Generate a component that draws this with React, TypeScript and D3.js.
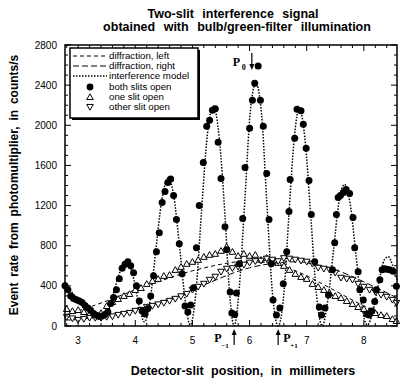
import React from 'react';
import * as d3 from 'd3';

// detector-slit position (mm) and count rate (counts/s)
const bothPos = [2.77, 2.82, 2.87, 2.92, 2.97, 3.02, 3.07, 3.12, 3.17, 3.22, 3.27, 3.32, 3.37, 3.42, 3.47, 3.52, 3.57, 3.62, 3.67, 3.72, 3.77, 3.82, 3.87, 3.92, 3.97, 4.02, 4.07, 4.12, 4.17, 4.22, 4.27, 4.32, 4.37, 4.42, 4.47, 4.52, 4.57, 4.62, 4.67, 4.72, 4.77, 4.82, 4.87, 4.92, 4.97, 5.02, 5.07, 5.12, 5.19, 5.25, 5.30, 5.35, 5.40, 5.45, 5.50, 5.57, 5.60, 5.66, 5.69, 5.74, 5.77, 5.82, 5.88, 5.92, 6.00, 6.05, 6.09, 6.15, 6.19, 6.24, 6.30, 6.34, 6.38, 6.41, 6.47, 6.53, 6.59, 6.65, 6.69, 6.71, 6.79, 6.83, 6.90, 6.94, 6.99, 7.04, 7.08, 7.14, 7.22, 7.26, 7.32, 7.38, 7.45, 7.49, 7.52, 7.55, 7.59, 7.64, 7.69, 7.75, 7.81, 7.84, 7.90, 7.93, 7.99, 8.05, 8.09, 8.14, 8.19, 8.22, 8.28, 8.32, 8.36, 8.40, 8.45, 8.51, 8.57];
const bothRate = [400, 360, 300, 275, 262, 250, 235, 205, 180, 155, 125, 108, 95, 100, 115, 140, 225, 285, 360, 470, 575, 615, 640, 600, 530, 400, 250, 150, 120, 175, 300, 500, 740, 930, 1230, 1340, 1430, 1465, 1300, 1060, 820, 520, 200, 140, 210, 380, 780, 1200, 1630, 1990, 2050, 2150, 2165, 1830, 1470, 990, 760, 340, 130, 115, 330, 620, 1070, 1580, 1970, 2250, 2420, 2590, 2250, 1990, 1520, 1060, 620, 260, 110, 180, 420, 740, 1140, 1460, 1870, 2160, 2145, 2010, 1770, 1450, 1110, 640, 190, 110, 180, 310, 560, 830, 1110, 1280, 1300, 1330, 1360, 1320, 1080, 780, 540, 360, 260, 120, 110, 150, 245, 360, 460, 560, 570, 565, 560, 545, 395];

const onePos = [2.8, 2.9, 3.0, 3.1, 3.2, 3.3, 3.4, 3.5, 3.6, 3.7, 3.8, 3.9, 4.0, 4.1, 4.2, 4.3, 4.4, 4.5, 4.6, 4.7, 4.8, 4.9, 5.0, 5.1, 5.2, 5.3, 5.4, 5.5, 5.6, 5.7, 5.8, 5.9, 6.0, 6.1, 6.2, 6.3, 6.4, 6.5, 6.6, 6.7, 6.8, 6.9, 7.0, 7.1, 7.2, 7.3, 7.4, 7.5, 7.6, 7.7, 7.8, 7.9, 8.0, 8.1, 8.2, 8.3, 8.4, 8.5, 8.57];
const oneRate = [170, 150, 160, 140, 120, 110, 130, 200, 240, 270, 300, 320, 360, 380, 420, 450, 470, 500, 510, 560, 590, 620, 640, 660, 690, 710, 720, 750, 790, 740, 700, 720, 700, 710, 660, 680, 650, 630, 600, 560, 520, 490, 470, 420, 390, 360, 330, 300, 280, 250, 220, 190, 170, 150, 130, 110, 100, 70, 50];

const otherPos = onePos;
const otherRate = [90, 75, 60, 70, 80, 80, 80, 90, 95, 110, 120, 130, 150, 160, 190, 200, 215, 230, 250, 270, 295, 320, 360, 390, 420, 460, 490, 540, 570, 575, 590, 610, 630, 645, 650, 670, 660, 645, 675, 670, 660, 650, 640, 620, 580, 570, 560, 530, 480, 470, 460, 420, 390, 360, 340, 310, 290, 260, 230];

const modelPos = [2.77, 2.90, 3.05, 3.20, 3.32, 3.42, 3.52, 3.62, 3.72, 3.82, 3.90, 3.98, 4.06, 4.16, 4.26, 4.36, 4.46, 4.58, 4.68, 4.78, 4.88, 4.96, 5.06, 5.16, 5.26, 5.37, 5.47, 5.57, 5.65, 5.73, 5.82, 5.92, 6.01, 6.11, 6.21, 6.30, 6.40, 6.50, 6.60, 6.69, 6.78, 6.87, 6.97, 7.07, 7.17, 7.27, 7.37, 7.47, 7.56, 7.66, 7.76, 7.86, 7.96, 8.06, 8.16, 8.26, 8.36, 8.43, 8.50, 8.58];
const modelRate = [440, 330, 230, 140, 90, 80, 150, 330, 520, 630, 600, 450, 220, 40, 260, 760, 1240, 1480, 1270, 760, 230, 10, 330, 1150, 1900, 2190, 1870, 1100, 330, 0, 380, 1280, 2120, 2420, 2110, 1250, 330, 0, 320, 1120, 1860, 2170, 1860, 1100, 320, 0, 260, 760, 1220, 1410, 1220, 720, 210, 10, 150, 430, 660, 690, 610, 460];

const diffLeftPos = [2.77, 3.0, 3.5, 4.0, 4.5, 5.0, 5.5, 5.8, 6.1, 6.5, 7.0, 7.5, 8.0, 8.3, 8.58];
const diffLeftRate = [110, 150, 250, 360, 460, 550, 615, 640, 640, 610, 500, 350, 200, 120, 40];
const diffRightPos = [2.77, 3.0, 3.5, 4.0, 4.5, 5.0, 5.5, 6.0, 6.5, 6.8, 7.0, 7.5, 8.0, 8.3, 8.58];
const diffRightRate = [60, 65, 100, 160, 250, 360, 480, 580, 630, 640, 630, 560, 440, 360, 280];

const xTickVals = [3, 4, 5, 6, 7, 8];
const yTickVals = [0, 400, 800, 1200, 1600, 2000, 2400, 2800];

const legendItems = ['diffraction, left', 'diffraction, right', 'interference model', 'both slits open', 'one slit open', 'other slit open'];

// peak markers: P0, P-1, P+1
const peakPos = [6.04, 5.73, 6.50];

const sans = '"Liberation Sans", Arial, Helvetica, sans-serif';
const serif = '"Liberation Serif", "Times New Roman", serif';

function tri(cx: number, cy: number, up: boolean) {
  const h = 3.2, s = up ? 1 : -1;
  return `M${cx},${cy - s * h}L${cx + 3.3},${cy + s * h * 0.8}L${cx - 3.3},${cy + s * h * 0.8}Z`;
}

export default function App() {
  const left = 65, right = 397, top = 45, bottom = 326;
  const x = d3.scaleLinear().domain([2.77, 8.58]).range([left, right]);
  const y = d3.scaleLinear().domain([0, 2800]).range([bottom, top]);

  const mk = (xs: number[], ys: number[]) => xs.map((v, i) => [v, ys[i]] as [number, number]);
  const smooth = d3.line<[number, number]>().x(d => x(d[0])).y(d => y(d[1])).curve(d3.curveMonotoneX);
  const soft = d3.line<[number, number]>().x(d => x(d[0])).y(d => y(d[1])).curve(d3.curveNatural);

  const xMinor = d3.range(2.8, 8.59, 0.2);
  const yMinor = d3.range(0, 2801, 100);

  const legY = [56, 66, 76, 87, 97, 107];

  return (
    <svg width={420} height={388} style={{ position: 'absolute', left: 0, top: 0, background: '#fff' }} fontFamily={sans}>
      <text x={233} y={18} fontSize={12.5} fontWeight="bold" textAnchor="middle" wordSpacing={5}>Two-slit interference signal</text>
      <text x={237} y={31} fontSize={12.5} fontWeight="bold" textAnchor="middle" wordSpacing={5}>obtained with bulb/green-filter illumination</text>

      {/* curves */}
      <path d={soft(mk(diffLeftPos, diffLeftRate)) || ''} fill="none" stroke="#000" strokeWidth={1} strokeDasharray="4,3" />
      <path d={soft(mk(diffRightPos, diffRightRate)) || ''} fill="none" stroke="#000" strokeWidth={1} strokeDasharray="6,3" />
      <path d={smooth(mk(modelPos, modelRate)) || ''} fill="none" stroke="#000" strokeWidth={1.5} strokeDasharray="1.5,1.5" />

      {/* data */}
      {onePos.map((p, i) => (
        <path key={'o' + i} d={tri(x(p), y(oneRate[i]), true)} fill="#fff" stroke="#000" strokeWidth={1} />
      ))}
      {otherPos.map((p, i) => (
        <path key={'t' + i} d={tri(x(p), y(otherRate[i]), false)} fill="#fff" stroke="#000" strokeWidth={1} />
      ))}
      {bothPos.map((p, i) => (
        <circle key={'b' + i} cx={x(p)} cy={y(bothRate[i])} r={3.5} fill="#000" />
      ))}

      {/* frame + ticks */}
      <rect x={left} y={top} width={right - left} height={bottom - top} fill="none" stroke="#000" strokeWidth={1.5} />
      {xMinor.map((v, i) => {
        const major = Math.abs(v - Math.round(v)) < 0.01;
        const l = major ? 6 : 3;
        return (
          <g key={'xt' + i} stroke="#000" strokeWidth={1}>
            <line x1={x(v)} x2={x(v)} y1={bottom} y2={bottom - l} />
            <line x1={x(v)} x2={x(v)} y1={top} y2={top + l} />
          </g>
        );
      })}
      {yMinor.map((v, i) => {
        const l = v % 400 === 0 ? 6 : 3;
        return (
          <g key={'yt' + i} stroke="#000" strokeWidth={1}>
            <line x1={left} x2={left + l} y1={y(v)} y2={y(v)} />
            <line x1={right} x2={right - l} y1={y(v)} y2={y(v)} />
          </g>
        );
      })}
      {xTickVals.map(v => (
        <text key={'xl' + v} x={x(v)} y={344} fontSize={10} textAnchor="middle">{v}</text>
      ))}
      {yTickVals.map(v => (
        <text key={'yl' + v} x={57} y={y(v) + 3.5} fontSize={10} textAnchor="end">{v}</text>
      ))}

      {/* legend */}
      <rect x={72} y={50} width={128} height={70} fill="#000" />
      <rect x={70} y={48} width={128} height={70} fill="#fff" stroke="#000" strokeWidth={1.5} />
      {legendItems.map((t, i) => (
        <text key={'lg' + i} x={109} y={legY[i] + 3.4} fontSize={9.7}>{t}</text>
      ))}
      <line x1={73} x2={107} y1={legY[0]} y2={legY[0]} stroke="#000" strokeDasharray="4,3" />
      <line x1={73} x2={107} y1={legY[1]} y2={legY[1]} stroke="#000" strokeDasharray="6,3" />
      <line x1={73} x2={107} y1={legY[2]} y2={legY[2]} stroke="#000" strokeWidth={1.5} strokeDasharray="1.5,1.5" />
      <circle cx={90} cy={legY[3]} r={3.4} fill="#000" />
      <path d={tri(90, legY[4], true)} fill="#fff" stroke="#000" />
      <path d={tri(90, legY[5], false)} fill="#fff" stroke="#000" />

      {/* peak annotations */}
      <g fontFamily={serif} fontWeight="bold">
        <line x1={x(peakPos[0])} x2={x(peakPos[0])} y1={53} y2={66} stroke="#000" strokeWidth={1.2} />
        <path d={`M${x(peakPos[0]) - 2.5},${64}L${x(peakPos[0]) + 2.5},${64}L${x(peakPos[0])},${70}Z`} fill="#000" />
        <text x={x(peakPos[0]) - 19} y={66} fontSize={12}>P</text>
        <text x={x(peakPos[0]) - 10} y={70} fontSize={8}>0</text>

        <line x1={x(peakPos[1])} x2={x(peakPos[1])} y1={345} y2={333} stroke="#000" strokeWidth={1.2} />
        <path d={`M${x(peakPos[1]) - 2.5},${335}L${x(peakPos[1]) + 2.5},${335}L${x(peakPos[1])},${329}Z`} fill="#000" />
        <text x={x(peakPos[1]) - 20} y={342} fontSize={12}>P</text>
        <text x={x(peakPos[1]) - 13} y={348} fontSize={7}>−1</text>

        <line x1={x(peakPos[2])} x2={x(peakPos[2])} y1={345} y2={333} stroke="#000" strokeWidth={1.2} />
        <path d={`M${x(peakPos[2]) - 2.5},${335}L${x(peakPos[2]) + 2.5},${335}L${x(peakPos[2])},${329}Z`} fill="#000" />
        <text x={x(peakPos[2]) + 5} y={342} fontSize={12}>P</text>
        <text x={x(peakPos[2]) + 12} y={348} fontSize={7}>+1</text>
      </g>

      <text x={243} y={375} fontSize={12.5} fontWeight="bold" textAnchor="middle" wordSpacing={4}>Detector-slit position, in millimeters</text>
      <text transform="translate(18,185) rotate(-90)" fontSize={12} fontWeight="bold" textAnchor="middle" wordSpacing={2.5}>Event rate from photomultiplier, in counts/s</text>
    </svg>
  );
}
